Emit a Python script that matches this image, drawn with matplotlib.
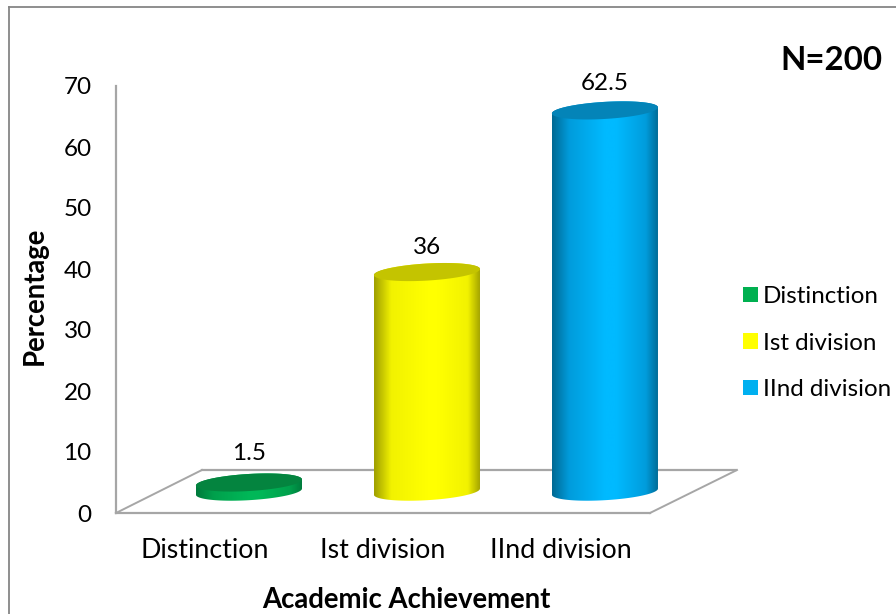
import numpy as np
import matplotlib
matplotlib.use('Agg')
import matplotlib.pyplot as plt
from matplotlib.colors import LinearSegmentedColormap
from matplotlib.lines import Line2D
from matplotlib.patches import Patch, Polygon

plt.rcParams['font.family'] = ['Lato', 'DejaVu Sans']

# academic achievement of the sample, in percent
categories = ['Distinction', 'Ist division', 'IInd division']
percent = [1.5, 36, 62.5]
value_labels = ['1.5', '36', '62.5']
y_ticks = [0, 10, 20, 30, 40, 50, 60, 70]

legend_colors = ['#00B050', '#FFFF00', '#00B0F0']
top_colors = ['#04843F', '#C4C400', '#0484B8']
side_bright = ['#00B858', '#FFFF00', '#00BAFF']
side_mid = ['#00A04C', '#F2F200', '#009CDC']
side_dark = ['#007A3C', '#A0A000', '#006A94']

GREY = '#A6A6A6'
W, H = 896.0, 614.0

fig = plt.figure(figsize=(8.96, 6.14), dpi=100)
ax = fig.add_axes([116 / W, (H - 513) / H, (737 - 116) / W, 427 / H])
ax.patch.set_alpha(0)

# outer chart frame runs off the right and bottom edges
fig.add_artist(Line2D([8.5 / W, 8.5 / W], [0, 1 - 7 / H], color='#868686', lw=1.3))
fig.add_artist(Line2D([8.5 / W, 1], [1 - 7 / H, 1 - 7 / H], color='#868686', lw=1.3))

x_left, x_right = -0.747, 2.742
x_front_right = 2.253  # right end of the floor's front edge
x_back_left = -0.264   # left end of the floor's back edge
floor_back = 7.05      # height of the floor's back edge
floor_level = 3.5      # where the cylinders stand on the floor
floor_shift = 0.247    # sideways shift between front and back of the floor

# floor outline
ax.plot([x_left, x_front_right], [0, 0], color=GREY, lw=1.6, clip_on=False, zorder=1)
ax.plot([x_left, x_back_left], [0, floor_back], color=GREY, lw=1.4, clip_on=False, zorder=1)
ax.plot([x_back_left, x_right], [floor_back, floor_back], color=GREY, lw=1.6, zorder=1)
ax.plot([x_front_right, x_right], [0, floor_back], color=GREY, lw=1.4, clip_on=False, zorder=1)

half_w = 0.298   # cylinder radius on the category axis
rim_b = 1.40     # ellipse half height
rim_k = 0.50     # tilt of the ellipse, right side higher
t = np.linspace(0, 2 * np.pi, 121)
shade_pos = [0, 0.16, 0.5, 0.6, 0.88, 1]
label_lift = [21, 18, 19.5]  # points between top face and value label

for i, val in enumerate(percent):
    top = floor_level + val
    ex = i + half_w * np.cos(t)
    top_y = top + rim_b * np.sin(t) + rim_k * np.cos(t)
    base_y = floor_level + rim_b * np.sin(t) + rim_k * np.cos(t)

    # side wall: shaded strip clipped to the outline of both rims
    low = t >= np.pi
    side_x = np.concatenate([ex[low], ex[~low]])
    side_y = np.concatenate([base_y[low], top_y[~low]])
    outline = Polygon(np.column_stack([side_x, side_y]), closed=True,
                      transform=ax.transData, fc='none', ec='none')
    ax.add_patch(outline)
    cmap = LinearSegmentedColormap.from_list('side', list(zip(shade_pos, [
        side_dark[i], side_mid[i], side_bright[i],
        side_bright[i], side_mid[i], side_dark[i]])))
    im = ax.imshow(np.linspace(0, 1, 200).reshape(1, -1), cmap=cmap, aspect='auto',
                   extent=[i - half_w, i + half_w, floor_level - 3, top + 3],
                   zorder=2, interpolation='bilinear')
    im.set_clip_path(outline)

    # top face
    ax.fill(ex, top_y, color=top_colors[i], lw=0, zorder=3)

    ax.annotate(value_labels[i], (i, top), xytext=(0, label_lift[i]), textcoords='offset points',
                ha='center', va='center', fontsize=17.5, color='black', zorder=4)

ax.set_xlim(x_left, x_right)
ax.set_ylim(0, 70)

ax.set_yticks(y_ticks)
ax.set_xticks(np.arange(len(categories)) - floor_shift)
ax.set_xticklabels(categories)
ax.tick_params(axis='y', length=0, pad=17.5, labelsize=17.5)
ax.tick_params(axis='x', length=0, pad=18, labelsize=19.3)
for side in ['top', 'right', 'bottom']:
    ax.spines[side].set_visible(False)
ax.spines['left'].set_color(GREY)
ax.spines['left'].set_linewidth(1.6)

ax.set_xlabel('Academic Achievement', fontsize=19.8, fontweight='bold')
ax.xaxis.set_label_coords((406 - 116) / (737 - 116), -(600 - 513) / 427, transform=ax.transAxes)
ax.xaxis.label.set_va('center')
ax.set_ylabel('Percentage', fontsize=19.8, fontweight='bold')
ax.yaxis.set_label_coords((35 - 116) / (737 - 116), (513 - 296) / 427, transform=ax.transAxes)
ax.yaxis.label.set_va('center')

fig.text(831 / W, 1 - 60 / H, 'N=200', fontsize=23.8, fontweight='bold', ha='center', va='center')

handles = [Patch(facecolor=c, edgecolor='none', label=n) for c, n in zip(legend_colors, categories)]
fig.legend(handles=handles, loc='center left', bbox_to_anchor=(743 / W, 1 - 343 / H),
           frameon=False, fontsize=17.4, handlelength=0.62, handleheight=0.62,
           handletextpad=0.2, labelspacing=1.05, borderaxespad=0, borderpad=0)

fig.savefig('out.png', dpi=100)
